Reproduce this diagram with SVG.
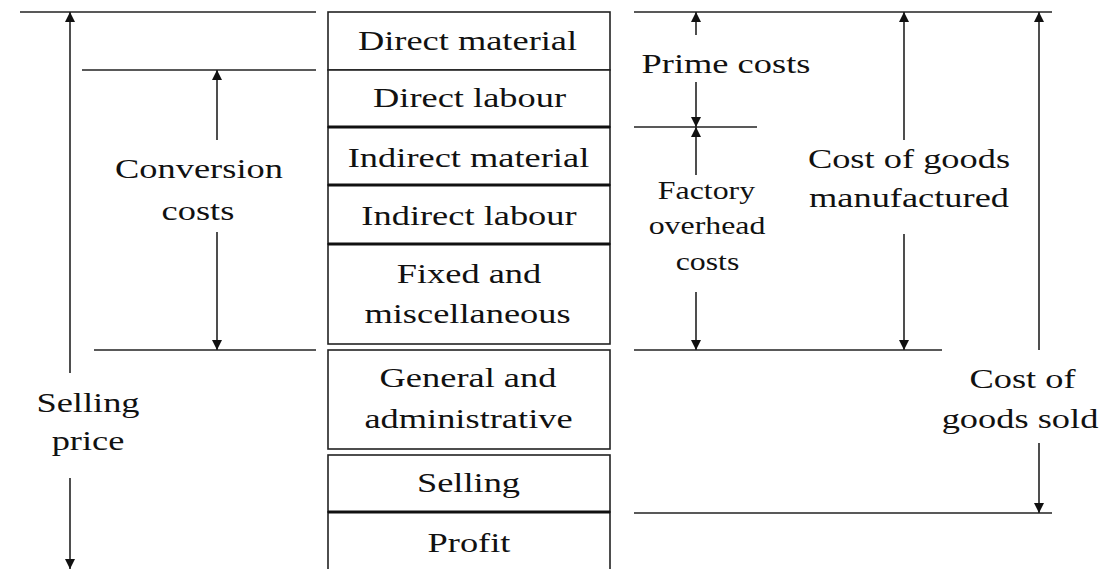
<svg xmlns="http://www.w3.org/2000/svg" width="1101" height="569" viewBox="0 0 1101 569">
<style>
text{font-family:'Liberation Serif','Times New Roman',serif;fill:#111;text-anchor:middle;font-size:28px}
.s{font-size:24.5px}
.box{fill:#fff;stroke:#222;stroke-width:1.6}
.ln{stroke:#222;stroke-width:1.6;fill:none}
.arr{stroke:#222;stroke-width:1.6;fill:none;marker-end:url(#ah)}
.thick{stroke:#111;stroke-width:2.8}
</style>
<defs>
<marker id="ah" viewBox="0 0 10 10" refX="10" refY="5" markerWidth="11" markerHeight="10" markerUnits="userSpaceOnUse" orient="auto">
<path d="M0,0 L10,5 L0,10 Z" fill="#111"/>
</marker>
</defs>
<rect width="1101" height="569" fill="#fff"/>

<g id="n-direct-material">
<rect class="box" x="328" y="12" width="282" height="58"/>
<text transform="matrix(1.3 0 0 1 467.5 50)">Direct material</text>
</g>
<g id="n-direct-labour">
<rect class="box" x="328" y="70" width="282" height="57"/>
<text transform="matrix(1.3 0 0 1 469.5 107)">Direct labour</text>
</g>
<g id="n-indirect-material">
<rect class="box" x="328" y="127" width="282" height="58"/>
<text transform="matrix(1.3 0 0 1 468.5 167)">Indirect material</text>
</g>
<g id="n-indirect-labour">
<rect class="box" x="328" y="185" width="282" height="59"/>
<text transform="matrix(1.3 0 0 1 469 225)">Indirect labour</text>
</g>
<g id="n-fixed">
<rect class="box" x="328" y="244" width="282" height="100"/>
<text transform="matrix(1.3 0 0 1 469 283)">Fixed and</text>
<text transform="matrix(1.3 0 0 1 467.5 323)">miscellaneous</text>
</g>
<g id="n-general">
<rect class="box" x="328" y="350" width="282" height="99"/>
<text transform="matrix(1.3 0 0 1 468 387)">General and</text>
<text transform="matrix(1.3 0 0 1 468.5 428)">administrative</text>
</g>
<g id="n-selling">
<rect class="box" x="328" y="455" width="282" height="57"/>
<text transform="matrix(1.3 0 0 1 468.5 492)">Selling</text>
</g>
<g id="n-profit">
<rect class="box" x="328" y="512" width="282" height="62"/>
<text transform="matrix(1.3 0 0 1 469 552)">Profit</text>
</g>
<g id="dividers">
<line class="thick" x1="328" y1="127" x2="610" y2="127"/>
<line class="thick" x1="328" y1="185" x2="610" y2="185"/>
<line class="thick" x1="328" y1="244" x2="610" y2="244"/>
<line class="thick" x1="328" y1="512" x2="610" y2="512"/>
</g>

<g id="labels">
<text transform="matrix(1.3 0 0 1 199 178)">Conversion</text>
<text transform="matrix(1.3 0 0 1 198 220)">costs</text>
<text transform="matrix(1.3 0 0 1 88 412)">Selling</text>
<text transform="matrix(1.3 0 0 1 88 450)">price</text>
<text transform="matrix(1.3 0 0 1 726 73)">Prime costs</text>
<text class="s" transform="matrix(1.3 0 0 1 706.5 199)">Factory</text>
<text class="s" transform="matrix(1.3 0 0 1 707 234)">overhead</text>
<text class="s" transform="matrix(1.3 0 0 1 707.5 270)">costs</text>
<text transform="matrix(1.3 0 0 1 909 168)">Cost of goods</text>
<text transform="matrix(1.3 0 0 1 909 207)">manufactured</text>
<text transform="matrix(1.3 0 0 1 1022.5 388)">Cost of</text>
<text transform="matrix(1.3 0 0 1 1020 428)">goods sold</text>
</g>

<g id="connectors">
<line class="ln" x1="20" y1="12" x2="316" y2="12"/>
<line class="ln" x1="82" y1="70" x2="316" y2="70"/>
<line class="ln" x1="94" y1="350" x2="316" y2="350"/>
<line class="ln" x1="634" y1="12" x2="1052" y2="12"/>
<line class="ln" x1="634" y1="127" x2="757" y2="127"/>
<line class="ln" x1="634" y1="350" x2="942" y2="350"/>
<line class="ln" x1="634" y1="513" x2="1052" y2="513"/>

<line class="arr" x1="70" y1="373" x2="70" y2="12"/>
<line class="arr" x1="70" y1="478" x2="70" y2="569"/>
<line class="arr" x1="217" y1="140" x2="217" y2="70"/>
<line class="arr" x1="217" y1="232" x2="217" y2="350"/>
<line class="arr" x1="696" y1="35" x2="696" y2="12"/>
<line class="arr" x1="696" y1="82" x2="696" y2="127"/>
<line class="arr" x1="696" y1="175" x2="696" y2="127"/>
<line class="arr" x1="696" y1="292" x2="696" y2="350"/>
<line class="arr" x1="904" y1="140" x2="904" y2="12"/>
<line class="arr" x1="904" y1="234" x2="904" y2="350"/>
<line class="arr" x1="1039" y1="350" x2="1039" y2="12"/>
<line class="arr" x1="1039" y1="443" x2="1039" y2="513"/>
</g>
</svg>
